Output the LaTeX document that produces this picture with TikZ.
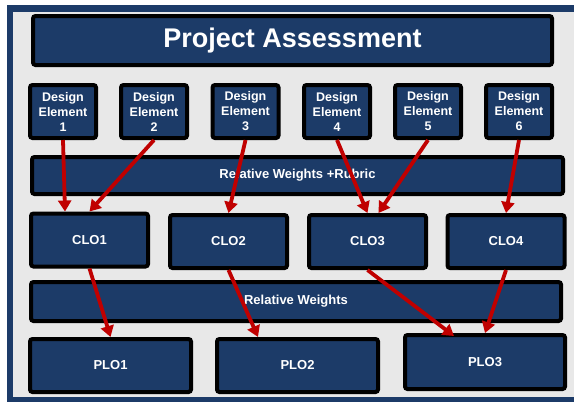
\documentclass[tikz,border=0pt]{standalone}
\usepackage{fontspec}
\setmainfont{Liberation Sans}
\usetikzlibrary{arrows.meta}
\definecolor{navy}{HTML}{1C3B68}
\definecolor{panel}{HTML}{E8E8E8}
\definecolor{linkred}{HTML}{C00000}

\begin{document}
\begin{tikzpicture}[x=1pt,y=-1pt,
  box/.style={draw=black, line width=4pt, fill=navy, rounded corners=2.5pt,
    inner sep=0pt, outer sep=2pt, text=white, align=center,
    font=\bfseries\fontsize{13}{15}\selectfont},
  element/.style={box, minimum width=66pt, minimum height=53pt,
    font=\bfseries\fontsize{12.5}{15}\selectfont},
  clo/.style={box, minimum width=117pt, minimum height=53pt},
  plo/.style={box, minimum width=161pt, minimum height=53pt},
  link/.style={draw=linkred, line width=3.8pt,
    -{Triangle[length=11pt,width=13pt]}}]
\useasboundingbox (0,0) rectangle (574,402);
\clip (0,0) rectangle (574,402);
% frame and panel
\fill[white] (0,0) rectangle (574,402);
\fill[navy] (7,5) rectangle (590,420);
\fill[panel] (13,12) rectangle (590,397);

% title
\node[box, minimum width=519pt, minimum height=49pt,
  font=\bfseries\fontsize{27}{30}\selectfont] (title) at (292.5,40.5) {Project Assessment};

% design elements
\node[element] (de1) at (63,111.5)  {Design\\Element\\1};
\node[element] (de2) at (154,111.5) {Design\\Element\\2};
\node[element] (de3) at (245.5,111.5) {Design\\Element\\3};
\node[element] (de4) at (337,111.5) {Design\\Element\\4};
\node[element] (de5) at (428,111.5) {Design\\Element\\5};
\node[element] (de6) at (519,111.5) {Design\\Element\\6};

% weighting bars
\node[box, minimum width=531pt, minimum height=37pt] (rwr) at (297.5,175.5) {Relative Weights +Rubric};

% course learning outcomes
\node[clo] (clo1) at (89.5,240)  {CLO1};
\node[clo] (clo2) at (228.5,241.5) {CLO2};
\node[clo] (clo3) at (367.5,241.5) {CLO3};
\node[clo] (clo4) at (506,241.5)  {CLO4};

\node[box, minimum width=530pt, minimum height=39pt] (rw) at (296,301.5) {Relative Weights};

% program learning outcomes
\node[plo] (plo1) at (110.5,365.5) {PLO1};
\node[plo] (plo2) at (297.5,365.5) {PLO2};
\node[plo, minimum width=160pt, minimum height=54pt] (plo3) at (485,362) {PLO3};

% mappings
\draw[link] (de1.south) -- ([xshift=-24.5pt]clo1.north);
\draw[link] (de2.south) -- (clo1.north);
\draw[link] (de3.south) -- (clo2.north);
\draw[link] (de4.south) -- (clo3.north);
\draw[link] (de5.south) -- ([xshift=11pt]clo3.north);
\draw[link] (de6.south) -- (clo4.north);
\draw[link] (clo1.south) -- (plo1.north);
\draw[link] (clo2.south) -- ([xshift=-39.5pt]plo2.north);
\draw[link] (clo3.south) -- ([xshift=-31pt,yshift=-3pt]plo3.north);
\draw[link] (clo4.south) -- (plo3.north);
\end{tikzpicture}
\end{document}
